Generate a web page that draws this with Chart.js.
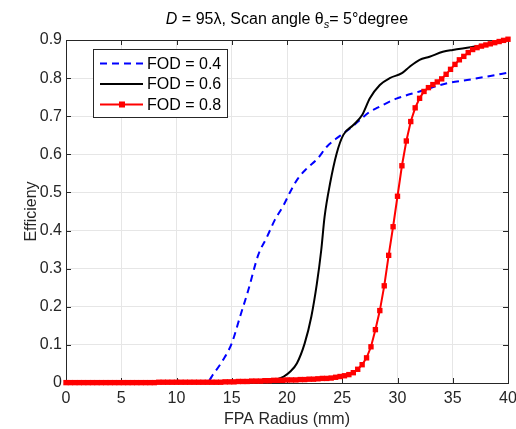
<!DOCTYPE html>
<html>
<head>
<meta charset="utf-8">
<script src="https://cdn.jsdelivr.net/npm/chart.js@4.4.1/dist/chart.umd.min.js"></script>
<style>
  html, body { margin: 0; padding: 0; background: #fff; }
  #wrap { width: 516px; height: 429px; }
</style>
</head>
<body>
<div id="wrap"><canvas id="grafico" width="516" height="429"></canvas></div>
<script>
// datos
const xTicks = [0, 5, 10, 15, 20, 25, 30, 35, 40];
const yTicks = [0, 0.1, 0.2, 0.3, 0.4, 0.5, 0.6, 0.7, 0.8, 0.9];
const seriesNames = ["FOD = 0.4", "FOD = 0.6", "FOD = 0.8"];

// FOD = 0.4 (azul, discontinua)
const blueRadius = [0, 10, 12.8, 13.3, 14.2, 15.0, 15.75, 16.5, 17.4, 18.2, 18.9, 19.7, 20.3, 21.0, 21.8, 22.8, 23.6, 24.4, 25.1, 25.7, 26.6, 27.5, 28.1, 29.9, 32.0, 34.4, 36.3, 38.1, 40];
const blueEff = [0, 0, 0.003, 0.022, 0.06, 0.104, 0.174, 0.244, 0.336, 0.384, 0.428, 0.467, 0.502, 0.537, 0.563, 0.59, 0.62, 0.64, 0.655, 0.668, 0.69, 0.712, 0.721, 0.746, 0.765, 0.786, 0.795, 0.804, 0.814];

// FOD = 0.6 (negro)
const blackRadius = [0, 15, 17, 18.5, 19.7, 20.3, 20.9, 21.6, 22.2, 22.7, 23.1, 23.4, 23.9, 24.5, 25.1, 26.0, 26.8, 27.5, 28.4, 29.3, 30.4, 31.1, 32.0, 32.9, 34.1, 35.0, 36.6, 38, 40];
const blackEff = [0, 0.001, 0.003, 0.007, 0.017, 0.03, 0.052, 0.104, 0.174, 0.26, 0.349, 0.436, 0.524, 0.603, 0.651, 0.677, 0.703, 0.747, 0.782, 0.8, 0.813, 0.83, 0.848, 0.856, 0.869, 0.874, 0.881, 0.888, 0.9];

// FOD = 0.8 (rojo con cuadraditos)
const redRadius = [0,0.4,0.8,1.2,1.6,2,2.4,2.8,3.2,3.6,4,4.4,4.8,5.2,5.6,6,6.4,6.8,7.2,7.6,8,8.4,8.8,9.2,9.6,10,10.4,10.8,11.2,11.6,12,12.4,12.8,13.2,13.6,14,14.4,14.8,15.2,15.6,16,16.4,16.8,17.2,17.6,18,18.4,18.8,19.2,19.6,20,20.4,20.8,21.2,21.6,22,22.4,22.8,23.2,23.6,24,24.4,24.8,25.2,25.6,26,26.4,26.8,27.2,27.6,28,28.4,28.8,29.2,29.6,30,30.4,30.8,31.2,31.6,32,32.4,32.8,33.2,33.6,34,34.4,34.8,35.2,35.6,36,36.4,36.8,37.2,37.6,38,38.4,38.8,39.2,39.6,40];
const redEff = [
  0.001,0.001,0.001,0.001,0.001,0.001,0.001,0.001,0.001,0.001,0.001,0.001,0.001,0.001,0.001,0.001,0.001,0.001,0.001,0.001,0.001,
  0.002,0.002,0.002,0.002,0.002,0.002,0.002,0.002,0.002,0.002,0.002,0.002,0.002,0.002,0.002,
  0.003,0.003,0.003,0.004,0.004,0.004,0.005,0.005,0.005,0.006,
  0.006,0.007,0.007,0.007,0.008,0.008,0.008,0.009,0.009,0.010,
  0.010,0.011,0.012,0.012,0.013,
  0.015,0.017,0.019,0.022,0.027,0.036,0.048,0.066,0.095,0.14,
  0.19,0.255,0.335,0.41,0.49,0.57,0.635,0.686,0.722,0.747,
  0.765,0.775,0.783,0.79,0.798,0.81,0.823,0.836,0.848,0.857,
  0.867,0.875,0.88,0.884,0.887,0.89,0.893,0.896,0.899,0.902
];

const FUENTE = "'Liberation Sans', Arial, sans-serif";
const EJE = "#262626";

function puntos(xs, ys) {
  return xs.map((x, i) => ({ x: x, y: ys[i] }));
}

// titulo con cursiva y subindice
const tituloPlugin = {
  id: "tituloPlugin",
  afterDraw(chart) {
    const ctx = chart.ctx;
    const a = chart.chartArea;
    const partes = [
      { t: "D", f: "italic 16px " + FUENTE, dy: 0 },
      { t: " = 95\u03bb, Scan angle \u03b8", f: "16px " + FUENTE, dy: 0 },
      { t: "s", f: "italic 11px " + FUENTE, dy: 4 },
      { t: "= 5\u00b0degree", f: "16px " + FUENTE, dy: 0 }
    ];
    let total = 0;
    partes.forEach(p => { ctx.font = p.f; p.w = ctx.measureText(p.t).width; total += p.w; });
    let x = (a.left + a.right) / 2 - total / 2;
    ctx.save();
    ctx.fillStyle = "#000";
    ctx.textBaseline = "alphabetic";
    partes.forEach(p => {
      ctx.font = p.f;
      ctx.fillText(p.t, x, 24 + p.dy);
      x += p.w;
    });
    ctx.restore();
  }
};

// caja, ticks hacia dentro (estilo matlab)
const cajaPlugin = {
  id: "cajaPlugin",
  beforeDatasetsDraw(chart) {
    const ctx = chart.ctx;
    const a = chart.chartArea;
    const sx = chart.scales.x, sy = chart.scales.y;
    ctx.save();
    ctx.strokeStyle = EJE;
    ctx.lineWidth = 1;
    ctx.strokeRect(Math.round(a.left) + 0.5, Math.round(a.top) + 0.5, Math.round(a.right - a.left), Math.round(a.bottom - a.top));
    ctx.beginPath();
    xTicks.forEach(v => {
      const px = Math.round(sx.getPixelForValue(v)) + 0.5;
      ctx.moveTo(px, a.bottom); ctx.lineTo(px, a.bottom - 5);
      ctx.moveTo(px, a.top); ctx.lineTo(px, a.top + 5);
    });
    yTicks.forEach(v => {
      const py = Math.round(sy.getPixelForValue(v)) + 0.5;
      ctx.moveTo(a.left, py); ctx.lineTo(a.left + 5, py);
      ctx.moveTo(a.right, py); ctx.lineTo(a.right - 5, py);
    });
    ctx.stroke();
    ctx.restore();
  }
};

// leyenda dentro del grafico
const leyendaPlugin = {
  id: "leyendaPlugin",
  afterDraw(chart) {
    const ctx = chart.ctx;
    const bx = 93, by = 49, bw = 134, bh = 68;
    ctx.save();
    ctx.fillStyle = "#fff";
    ctx.fillRect(bx, by, bw, bh);
    ctx.strokeStyle = EJE;
    ctx.lineWidth = 1;
    ctx.strokeRect(bx + 0.5, by + 0.5, bw, bh);
    const filas = [63.5, 84, 104.5];
    const estilos = [
      { c: "#0000ff", dash: [7, 5], marca: false },
      { c: "#000000", dash: [], marca: false },
      { c: "#ff0000", dash: [], marca: true }
    ];
    filas.forEach((y, i) => {
      const e = estilos[i];
      ctx.strokeStyle = e.c;
      ctx.lineWidth = 2;
      ctx.setLineDash(e.dash);
      ctx.beginPath();
      ctx.moveTo(100, y); ctx.lineTo(143, y);
      ctx.stroke();
      ctx.setLineDash([]);
      if (e.marca) {
        ctx.fillStyle = e.c;
        ctx.fillRect(119, y - 3, 6, 6);
      }
      ctx.fillStyle = "#000";
      ctx.font = "16px " + FUENTE;
      ctx.textBaseline = "middle";
      ctx.fillText(seriesNames[i], 147, y + 1);
    });
    ctx.restore();
  }
};

const ctx = document.getElementById("grafico");
new Chart(ctx, {
  type: "line",
  data: {
    datasets: [
      {
        label: seriesNames[0],
        data: puntos(blueRadius, blueEff),
        borderColor: "#0000ff",
        borderWidth: 2,
        borderDash: [7, 5],
        pointRadius: 0,
        cubicInterpolationMode: "monotone",
        fill: false,
        order: 3
      },
      {
        label: seriesNames[1],
        data: puntos(blackRadius, blackEff),
        borderColor: "#000000",
        borderWidth: 2,
        pointRadius: 0,
        cubicInterpolationMode: "monotone",
        fill: false,
        order: 2
      },
      {
        label: seriesNames[2],
        data: puntos(redRadius, redEff),
        borderColor: "#ff0000",
        backgroundColor: "#ff0000",
        borderWidth: 2,
        pointStyle: "rect",
        pointRadius: 3.8,
        pointBorderWidth: 0,
        fill: false,
        clip: 6,
        order: 1
      }
    ]
  },
  options: {
    responsive: false,
    animation: false,
    layout: { padding: { top: 40, right: 8, left: 22, bottom: 0 } },
    plugins: {
      legend: { display: false },
      title: { display: false },
      tooltip: { enabled: false }
    },
    scales: {
      x: {
        type: "linear",
        min: 0, max: 40,
        afterBuildTicks: s => { s.ticks = xTicks.map(v => ({ value: v })); },
        afterFit: s => { s.height = 46; s.paddingLeft = 0; s.paddingRight = 0; },
        grid: { color: "#e6e6e6", drawTicks: false },
        border: { display: false },
        ticks: { color: EJE, font: { family: FUENTE, size: 16 }, padding: 6, maxRotation: 0 },
        title: { display: true, text: "FPA Radius (mm)", color: EJE, font: { family: FUENTE, size: 16 }, padding: { top: 0, bottom: 0 } }
      },
      y: {
        min: 0, max: 0.9,
        afterBuildTicks: s => { s.ticks = yTicks.map(v => ({ value: v })); },
        afterFit: s => { s.width = 44; s.paddingTop = 0; s.paddingBottom = 0; },
        grid: { color: "#e6e6e6", drawTicks: false },
        border: { display: false },
        ticks: { color: EJE, font: { family: FUENTE, size: 16 }, padding: 4, callback: v => String(Math.round(v * 10) / 10) },
        title: { display: true, text: "Efficieny", color: EJE, font: { family: FUENTE, size: 16 }, padding: { top: 0, bottom: 0 } }
      }
    }
  },
  plugins: [cajaPlugin, tituloPlugin, leyendaPlugin]
});
</script>
</body>
</html>
